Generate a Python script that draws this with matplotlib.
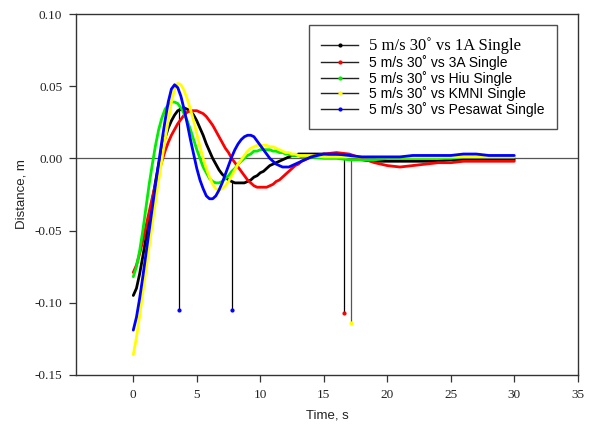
import matplotlib

matplotlib.use("Agg")
import matplotlib.pyplot as plt
from matplotlib.lines import Line2D

# time grid shared by all five runs, s
time_s = [0, 0.25, 0.5, 0.75, 1, 1.25, 1.5, 1.75, 2, 2.25, 2.5, 2.75, 3, 3.25,
          3.5, 3.75, 4, 4.25, 4.5, 4.75, 5, 5.25, 5.5, 5.75, 6, 6.25, 6.5,
          6.75, 7, 7.25, 7.5, 7.75, 8, 8.25, 8.5, 8.75, 9, 9.25, 9.5, 9.75,
          10, 10.25, 10.5, 10.75, 11, 11.25, 11.5, 11.75, 12, 12.25, 12.5,
          12.75, 13, 13.25, 13.5, 13.75, 14,
          15, 16, 17, 18, 19, 20, 21, 22, 23, 24, 25, 26, 27, 28, 29, 30]

dist_1a = [-0.095, -0.090, -0.080, -0.068, -0.055, -0.042, -0.029, -0.016,
           -0.004, 0.006, 0.014, 0.021, 0.026, 0.030, 0.033, 0.034, 0.035,
           0.034, 0.033, 0.030, 0.026, 0.021, 0.016, 0.010, 0.005, 0.000,
           -0.004, -0.008, -0.011, -0.013, -0.015, -0.016, -0.017, -0.017,
           -0.017, -0.017, -0.016, -0.015, -0.013, -0.012, -0.010, -0.009,
           -0.007, -0.005, -0.004, -0.003, -0.002, -0.001, 0.000, 0.001,
           0.002, 0.002, 0.003, 0.003, 0.003, 0.003, 0.003,
           0.003, 0.002, 0.000, -0.001, -0.002, -0.002, -0.002, -0.002,
           -0.002, -0.002, -0.001, -0.001, -0.001, -0.001, -0.001, -0.001]
dist_3a = [-0.079, -0.074, -0.066, -0.057, -0.047, -0.037, -0.027, -0.018,
           -0.010, -0.002, 0.005, 0.011, 0.016, 0.020, 0.024, 0.027, 0.030,
           0.032, 0.033, 0.033, 0.033, 0.032, 0.031, 0.029, 0.026, 0.023,
           0.019, 0.015, 0.011, 0.007, 0.004, 0.000, -0.003, -0.006, -0.009,
           -0.012, -0.015, -0.017, -0.019, -0.020, -0.020, -0.020, -0.020,
           -0.019, -0.018, -0.016, -0.015, -0.013, -0.011, -0.009, -0.007,
           -0.005, -0.004, -0.002, -0.001, 0.000, 0.001,
           0.003, 0.004, 0.003, 0.000, -0.003, -0.005, -0.006, -0.005,
           -0.004, -0.003, -0.003, -0.002, -0.002, -0.002, -0.002, -0.002]
dist_hiu = [-0.082, -0.075, -0.064, -0.050, -0.034, -0.018, -0.004, 0.009,
            0.020, 0.028, 0.034, 0.037, 0.039, 0.039, 0.038, 0.035, 0.031,
            0.026, 0.020, 0.013, 0.006, 0.000, -0.006, -0.010, -0.014,
            -0.016, -0.017, -0.017, -0.016, -0.014, -0.012, -0.009, -0.007,
            -0.004, -0.002, 0.000, 0.002, 0.003, 0.005, 0.005, 0.006, 0.006,
            0.006, 0.006, 0.005, 0.005, 0.004, 0.004, 0.003, 0.003, 0.002,
            0.002, 0.002, 0.001, 0.001, 0.001, 0.001,
            0.000, 0.000, -0.001, -0.001, -0.001, 0.000, 0.000, 0.000, 0.000,
            0.000, 0.000, 0.001, 0.001, 0.001, 0.001, 0.001]
dist_kmni = [-0.136, -0.124, -0.109, -0.093, -0.077, -0.061, -0.045, -0.030,
             -0.015, -0.001, 0.013, 0.026, 0.039, 0.048, 0.052, 0.051, 0.047,
             0.041, 0.034, 0.026, 0.017, 0.008, 0.000, -0.007, -0.013,
             -0.018, -0.021, -0.022, -0.021, -0.019, -0.016, -0.012, -0.008,
             -0.004, -0.001, 0.002, 0.005, 0.007, 0.008, 0.009, 0.009, 0.009,
             0.009, 0.008, 0.008, 0.007, 0.006, 0.005, 0.004, 0.004, 0.003,
             0.003, 0.002, 0.002, 0.002, 0.002, 0.002,
             0.001, 0.001, 0.001, 0.001, 0.001, 0.001, 0.001, 0.001, 0.001,
             0.001, 0.001, 0.001, 0.001, 0.001, 0.001, 0.001]
dist_pesawat = [-0.119, -0.110, -0.097, -0.082, -0.066, -0.050, -0.034,
                -0.018, -0.003, 0.012, 0.026, 0.039, 0.048, 0.051, 0.049,
                0.043, 0.034, 0.024, 0.013, 0.003, -0.007, -0.015, -0.021,
                -0.026, -0.028, -0.028, -0.026, -0.022, -0.017, -0.011,
                -0.005, 0.001, 0.006, 0.010, 0.013, 0.015, 0.016, 0.016,
                0.015, 0.012, 0.009, 0.006, 0.003, 0.000, -0.002, -0.004,
                -0.005, -0.006, -0.006, -0.006, -0.005, -0.004, -0.003,
                -0.002, -0.001, 0.000, 0.001,
                0.003, 0.003, 0.002, 0.001, 0.001, 0.001, 0.001, 0.002, 0.002,
                0.002, 0.002, 0.003, 0.003, 0.002, 0.002, 0.002]

labels = [
    "5 m/s 30˚ vs 1A Single",
    "5 m/s 30˚ vs 3A Single",
    "5 m/s 30˚ vs Hiu Single",
    "5 m/s 30˚ vs KMNI Single",
    "5 m/s 30˚ vs Pesawat Single",
]
colors = ["#000000", "#ff0000", "#00ee00", "#ffff00", "#0000ff"]
series = [dist_1a, dist_3a, dist_hiu, dist_kmni, dist_pesawat]

# stray vertical drop-outs in the exported data
spike_t = [3.6, 7.8, 16.6, 17.15]
spike_top = [0.035, -0.017, -0.001, -0.002]
spike_bottom = [-0.105, -0.105, -0.107, -0.114]
spike_colors = ["#0000ff", "#0000ff", "#ff0000", "#ffff00"]
spike_line = ["#000000", "#000000", "#000000", "#555555"]

fig = plt.figure(figsize=(5.95, 4.25), dpi=100)
ax = fig.add_axes([0.128, 0.118, 0.843, 0.849])

ax.axhline(0, color="#555555", lw=0.9, zorder=1)

for t, top, bot, mc, lc in zip(spike_t, spike_top, spike_bottom, spike_colors, spike_line):
    ax.plot([t, t], [top, bot], color=lc, lw=0.9, zorder=2)
    ax.plot([t], [bot], marker="o", ms=2, color=mc, zorder=3)

# draw order: KMNI under the others, pesawat on top
order = [3, 2, 0, 1, 4]
for i in order:
    ax.plot(time_s, series[i], color=colors[i], lw=2.0, zorder=4 + i,
            solid_joinstyle="round", solid_capstyle="round")

ax.set_xlim(-4.5, 35)
ax.set_ylim(-0.15, 0.10)
ax.set_xticks(range(0, 36, 5))
ax.set_yticks([-0.15, -0.10, -0.05, 0.00, 0.05, 0.10])
ax.set_yticklabels(["-0.15", "-0.10", "-0.05", "0.00", "0.05", "0.10"])
ax.tick_params(direction="out", length=5, width=0.9, colors="#333333",
               labelsize=9.5, labelcolor="#222222", pad=5)
for lab in ax.get_xticklabels() + ax.get_yticklabels():
    lab.set_family("Liberation Serif")
for sp in ax.spines.values():
    sp.set_color("#333333")
    sp.set_linewidth(1.0)

ax.set_xlabel("Time, s", family="Liberation Sans", fontsize=9.5,
              color="#222222", labelpad=6)
ax.set_ylabel("Distance, m", family="Liberation Sans", fontsize=9.5,
              color="#222222", labelpad=5)

handles = [Line2D([0], [0], color="#222222", lw=1.0, marker="o", ms=2,
                  markerfacecolor=c, markeredgecolor=c) for c in colors]
leg = ax.legend(handles, labels, loc="upper right", bbox_to_anchor=(0.958, 0.970),
                frameon=True, fancybox=False, edgecolor="#222222",
                handlelength=2.6, handletextpad=0.8, labelspacing=0.05,
                borderpad=0.9, borderaxespad=0,
                prop={"family": "Liberation Sans", "size": 10})
leg.get_frame().set_linewidth(1.0)
texts = leg.get_texts()
texts[0].set_family("Liberation Serif")
texts[0].set_fontsize(12)

fig.savefig("out.png", dpi=100)
